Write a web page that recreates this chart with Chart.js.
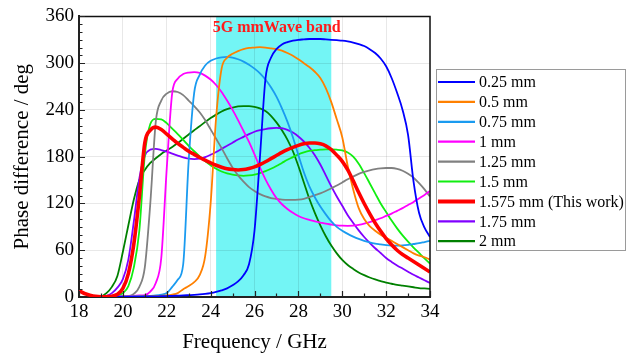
<!DOCTYPE html>
<html>
<head>
<meta charset="utf-8">
<script src="https://cdn.jsdelivr.net/npm/chart.js@4"></script>
<style>
html,body{margin:0;padding:0;background:#fff;}
#wrap{width:632px;height:356px;position:relative;}
</style>
</head>
<body>
<div id="wrap"><canvas id="c" width="632" height="356"></canvas></div>
<script>
// ---------- DATA ----------
const freq = [18,18.25,18.5,18.75,19,19.25,19.5,19.75,20,20.25,20.5,20.75,21,21.25,21.5,21.75,22,22.25,22.5,22.75,23,23.25,23.5,23.75,24,24.25,24.5,24.75,25,25.25,25.5,25.75,26,26.25,26.5,26.75,27,27.25,27.5,27.75,28,28.25,28.5,28.75,29,29.25,29.5,29.75,30,30.25,30.5,30.75,31,31.25,31.5,31.75,32,32.25,32.5,32.75,33,33.25,33.5,33.75,34];

const t025 = [8,4.5,2.3,0.8,0.2,0.2,0.2,0.3,0.3,0.4,0.5,0.6,0.7,0.8,0.9,1,1.2,1.4,1.7,2,2.4,2.8,3.3,4,5,6.5,8.5,11,15,20,28,42,85,180,280,307,318,324,327,329,330,330.5,331,331,331,330.5,330,329.5,329,328,326.5,324.5,322,318,313,306,296,281,262,240,208,148,108,89,77];
const t050 = [8,4.5,2.3,0.8,0.2,0.2,0.2,0.3,0.3,0.4,0.5,0.6,0.8,0.9,1.1,1.5,2,3,5,10,14,19,28,52,120,230,293,307,312,315.5,318,319.5,320,320.5,320,319,318,316,313,309.5,305,300,295,289,281,268,250,228,205,168,138,114,100,91,85,80,76,72,68,64,60,56,53,51,48];
const t075 = [8,4.5,2.3,0.8,0.2,0.2,0.3,0.4,0.5,0.6,0.8,1,1.2,1.5,2,3,5,13,22,42,175,262,285,297,303,306,307.5,308,307,305,302,298,293,287,279,269,257,242,225,205,182,160,142,128,116,106,97,90,85,81,77.5,74.5,72,70,68.5,67.5,66.5,66,66,66.3,67,68,69,70.5,72];
const t100 = [8,4.5,2.3,0.8,0.2,0.2,0.3,0.5,0.8,1.1,1.5,2,2.5,7,18,50,165,262,280,286,288,288.5,287.5,284,279,272,263,252,240,227,213,199,183,166,151,138,127,119,113,108,104,101,99,97,95.5,94,93,92,91.5,91.3,91.5,92.5,94,96,98.5,101,104,107,110.5,114,118,122,126.5,131,136];
const t125 = [8,4.5,2.3,0.8,0.2,0.2,0.3,0.4,0.6,1,4,13,38,120,225,252,261,264,263,259,252,245,237,227,215,203,191,178,166,156,148,141,136,132,129,127,126,125,124.5,124.5,125,126,128,130.5,133,136,139.5,143,147,151,154.5,158,160.5,162.5,164,165,165.5,165.5,164.5,162,158,153,146,138,129];
const t150 = [8,4.5,2.3,0.8,0.3,0.4,0.8,2,5,14,38,85,182,222,228.5,228,223,216,209,201.5,194,187,180.5,174.5,169,164.5,161,158.5,157,156,155.5,156,157,159,161.5,164.5,168,172,176,179.5,183,185.5,187.5,188.5,189,189.5,189.5,189,188,185.5,180,171,159,146,133,120,109,98,88,79,71,63.5,56.5,49.5,43];
const t1575 = [8,4.5,2.3,0.8,0.3,0.4,1,3.5,11,30,68,128,198,214,218,215,209,203,197,192,187,183,179,175.5,172,169,166.5,164.5,163.5,163,163.5,165,167,170,173.5,177.5,181.5,185.5,189,192,194.5,196.5,197.5,197.5,196.5,194,189,182,174,163,149,134,120,107,95,84.5,75,67,60,54.5,50,45.5,41,36.5,32];
const t175 = [8,4.5,2.3,0.8,0.4,1.5,5,12,23,48,97,152,181,189,190,188.5,186.5,184,181.5,179,177.5,177,177.5,179.5,182.5,186,190,194,198,202,205.5,209,212,214,215.5,216.5,217,216.5,214.5,211,206,199.5,191.5,182,170,156,142,129,117,105,95,85.5,77,69.5,62.5,56.5,50,45,40.5,36.5,32.5,28.5,25,21.5,18];
const t200 = [8,4.5,2.3,0.8,1,5,13,27,58,92,125,150,163,172,178,183.5,188,192.5,197.5,203,208.5,214,219,224.5,229.5,234,238,241,243,244.5,245,245,244,242,238.5,232.5,224,214,202,187,168,147,126,108,92,78,66,56,47.5,41,36,31.5,28,25,22.5,20.5,18.5,17,15.5,14.5,13.5,12.5,11.5,11,10.5];

const seriesLabels = ['0.25 mm','0.5 mm','0.75 mm','1 mm','1.25 mm','1.5 mm','1.575 mm (This work)','1.75 mm','2 mm'];
const seriesValues = [t025,t050,t075,t100,t125,t150,t1575,t175,t200];
const seriesColors = ['#0000ff','#ff8000','#1a9bf0','#ff00ff','#808080','#11ee11','#ff0000','#8000ff','#008000'];
const seriesWidths = [1.8,1.8,1.8,1.8,1.8,1.8,3.6,1.8,1.8];

const xTickLabels = [18,20,22,24,26,28,30,32,34];
const yTickLabels = [0,60,120,180,240,300,360];
const bandRange = [24.25, 29.5];
const bandLabel = '5G mmWave band';
const xTitle = 'Frequency / GHz';
const yTitle = 'Phase difference / deg';

// ---------- CHART ----------
const SERIF = "'Liberation Serif','Times New Roman',serif";
Chart.defaults.font.family = SERIF;
Chart.defaults.color = '#000';

const datasets = seriesValues.map((vals, i) => ({
  label: seriesLabels[i],
  data: freq.map((f, k) => ({x: f, y: vals[k]})),
  borderColor: seriesColors[i],
  backgroundColor: seriesColors[i],
  borderWidth: seriesWidths[i],
  pointRadius: 0,
  cubicInterpolationMode: 'monotone',
  fill: false,
  order: i === 6 ? -1 : i
}));

const bandPlugin = {
  id: 'band',
  beforeDraw(chart) {
    const {ctx, chartArea: a, scales: {x}} = chart;
    const x0 = x.getPixelForValue(bandRange[0]);
    const x1 = x.getPixelForValue(bandRange[1]);
    ctx.save();
    ctx.fillStyle = 'rgb(115,245,245)';
    ctx.fillRect(x0, a.top, x1 - x0, a.bottom - a.top);
    ctx.restore();
  },
  afterDatasetsDraw(chart) {
    const {ctx, chartArea: a, scales: {x}} = chart;
    const x0 = x.getPixelForValue(bandRange[0]);
    const x1 = x.getPixelForValue(bandRange[1]);
    ctx.save();
    ctx.fillStyle = '#ff1a1a';
    ctx.font = "bold 16px " + SERIF;
    ctx.textAlign = 'center';
    ctx.textBaseline = 'middle';
    ctx.fillText(bandLabel, (x0 + x1) / 2 + 3, a.top + 11);
    ctx.restore();
  }
};

const framePlugin = {
  id: 'frame',
  afterDraw(chart) {
    const {ctx, chartArea: a, scales: {x, y}} = chart;
    ctx.save();
    ctx.strokeStyle = '#111';
    ctx.lineWidth = 1.5;
    ctx.beginPath();
    ctx.moveTo(a.left, a.top); ctx.lineTo(a.right, a.top); ctx.lineTo(a.right, a.bottom);
    ctx.stroke();
    // inward ticks
    ctx.strokeStyle = '#222';
    ctx.lineWidth = 1.2;
    ctx.beginPath();
    for (let v = x.min; v <= x.max + 1e-9; v += 1) {
      const px = Math.round(x.getPixelForValue(v)) + 0.5;
      const len = (v % 2 === 0) ? 6 : 3.5;
      ctx.moveTo(px, a.bottom); ctx.lineTo(px, a.bottom - len);
    }
    for (let v = y.min; v <= y.max + 1e-9; v += 10) {
      const py = Math.round(y.getPixelForValue(v)) + 0.5;
      const len = (v % 60 === 0) ? 6 : 3.5;
      ctx.moveTo(a.left, py); ctx.lineTo(a.left + len, py);
    }
    ctx.stroke();
    ctx.restore();
  }
};

const legendPlugin = {
  id: 'manualLegend',
  afterDraw(chart) {
    const {ctx} = chart;
    const bx = 436.5, by = 69.5, bw = 189, bh = 181;
    ctx.save();
    ctx.fillStyle = '#fff';
    ctx.fillRect(bx, by, bw, bh);
    ctx.strokeStyle = '#9a9a9a';
    ctx.lineWidth = 1;
    ctx.strokeRect(bx, by, bw, bh);
    ctx.font = "16px " + SERIF;
    ctx.textBaseline = 'middle';
    ctx.textAlign = 'left';
    chart.data.datasets.forEach((ds, i) => {
      const cy = 82 + i * 19.9;
      ctx.strokeStyle = ds.borderColor;
      ctx.lineWidth = ds.borderWidth + 0.4;
      ctx.beginPath();
      ctx.moveTo(438, cy); ctx.lineTo(475, cy);
      ctx.stroke();
      ctx.fillStyle = '#000';
      ctx.fillText(ds.label, 479, cy + 1);
    });
    ctx.restore();
  }
};

new Chart(document.getElementById('c'), {
  type: 'line',
  data: {datasets},
  options: {
    responsive: false,
    animation: false,
    devicePixelRatio: 1,
    layout: {padding: {left: 0, right: 202, top: 14, bottom: 0}},
    plugins: {legend: {display: false}, tooltip: {enabled: false}},
    scales: {
      x: {
        type: 'linear', min: 18, max: 34,
        afterBuildTicks: s => { s.ticks = xTickLabels.map(v => ({value: v})); },
        afterFit: s => { s.height = 59; },
        ticks: {font: {size: 19}, color: '#000', padding: 4, maxRotation: 0},
        grid: {color: 'rgba(0,0,0,0.09)', lineWidth: 1, drawTicks: false},
        border: {display: true, color: '#222', width: 2},
        title: {display: true, text: xTitle, font: {size: 21}, color: '#000', padding: {top: 0, bottom: 1}}
      },
      y: {
        type: 'linear', min: 0, max: 360,
        afterBuildTicks: s => { s.ticks = yTickLabels.map(v => ({value: v})); },
        afterFit: s => { s.width = 79; },
        ticks: {font: {size: 19}, color: '#000', padding: 5},
        grid: {color: 'rgba(0,0,0,0.09)', lineWidth: 1, drawTicks: false},
        border: {display: true, color: '#222', width: 2},
        title: {display: true, text: yTitle, font: {size: 21}, color: '#000', padding: {top: 10, bottom: 0}}
      }
    }
  },
  plugins: [bandPlugin, framePlugin, legendPlugin]
});
</script>
</body>
</html>
